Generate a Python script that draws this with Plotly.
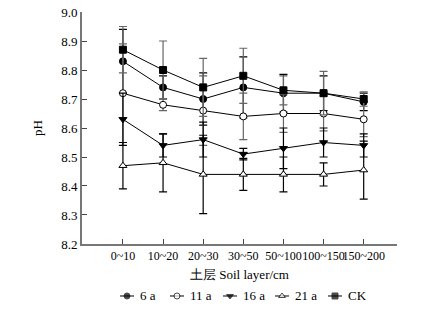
import plotly.graph_objects as go

layers = ["0~10", "10~20", "20~30", "30~50", "50~100", "100~150", "150~200"]
names = ["6 a", "11 a", "16 a", "21 a", "CK"]

ph_6a = [8.83, 8.74, 8.70, 8.74, 8.72, 8.72, 8.69]
ph_11a = [8.72, 8.68, 8.66, 8.64, 8.65, 8.65, 8.63]
ph_16a = [8.63, 8.54, 8.56, 8.51, 8.53, 8.55, 8.54]
ph_21a = [8.47, 8.48, 8.44, 8.44, 8.44, 8.44, 8.455]
ph_ck = [8.87, 8.80, 8.74, 8.78, 8.73, 8.72, 8.70]

err_6a = [0.11, 0.04, 0.09, 0.105, 0.065, 0.06, 0.03]
err_11a = [0.17, 0.02, 0.12, 0.08, 0.065, 0.06, 0.06]
err_16a = [0.09, 0.04, 0.06, 0.02, 0.07, 0.05, 0.04]
err_21a = [0.08, 0.10, 0.135, 0.055, 0.06, 0.04, 0.10]
err_ck = [0.08, 0.10, 0.10, 0.095, 0.05, 0.075, 0.025]

values = [ph_6a, ph_11a, ph_16a, ph_21a, ph_ck]
errors = [err_6a, err_11a, err_16a, err_21a, err_ck]

# styles
symbols = ["circle", "circle", "triangle-down", "triangle-up", "square"]
fills = ["black", "white", "black", "white", "black"]
err_colors = ["#000000", "#666666", "#000000", "#000000", "#666666"]
# legend layout (pixel x positions of legend symbols in x2 space)
legend_cx = [127, 177, 230, 282, 335]

FONT = "Liberation Serif"
fig = go.Figure()
for name, vals, errs, sym, fill, ecol in zip(names, values, errors, symbols, fills, err_colors):
    fig.add_trace(go.Scatter(
        x=layers, y=vals, name=name, mode="lines+markers", showlegend=False,
        line=dict(color="black", width=1),
        marker=dict(symbol=sym, size=7, color=fill, line=dict(color="black", width=1)),
        error_y=dict(type="data", array=errs, visible=True, color=ecol, thickness=1.2, width=4),
    ))

# custom compact legend drawn on a hidden helper axis
annotations = []
for name, sym, fill, cx in zip(names, symbols, fills, legend_cx):
    fig.add_trace(go.Scatter(
        x=[cx - 7, cx, cx + 7], y=[0.5, 0.5, 0.5], xaxis="x2", yaxis="y2",
        mode="lines+markers", showlegend=False, hoverinfo="skip",
        line=dict(color="black", width=1),
        marker=dict(symbol=sym, size=[0, 6, 0], color=fill, line=dict(color="black", width=1)),
    ))
    annotations.append(dict(x=cx + 11, y=0.5, xref="x2", yref="y2", text=name,
                            showarrow=False, xanchor="left", yanchor="middle",
                            font=dict(family=FONT, size=13, color="black")))

fig.update_layout(
    width=439, height=310,
    margin=dict(l=82, r=42, t=12, b=0, autoexpand=False),
    paper_bgcolor="white", plot_bgcolor="white",
    font=dict(family=FONT, size=13, color="black"),
    showlegend=False,
    annotations=annotations,
    xaxis=dict(range=[-1.02, 6.83], showline=True, linecolor="#777777", linewidth=2,
               ticks="inside", ticklen=5, tickcolor="#444444", showgrid=False, zeroline=False,
               tickangle=0, anchor="y", tickfont=dict(size=12), automargin=False,
               title=dict(text="土层 Soil layer/cm", standoff=8, font=dict(size=13))),
    yaxis=dict(domain=[0.2215, 1], range=[8.2, 9.0], dtick=0.1, tickformat=".1f",
               showline=True, linecolor="#777777", linewidth=2, ticks="inside", ticklen=5,
               tickcolor="#444444", showgrid=False, zeroline=False, automargin=False,
               ticklabeloverflow="allow",
               title=dict(text="pH", standoff=16, font=dict(size=13))),
    xaxis2=dict(domain=[0, 1], range=[82, 397], visible=False, anchor="y2", automargin=False),
    yaxis2=dict(domain=[0.017, 0.077], range=[0, 1], visible=False, anchor="x2", automargin=False),
)

fig.write_html("out.html", config={"displayModeBar": False},
               post_script="document.body.style.margin='0';")
